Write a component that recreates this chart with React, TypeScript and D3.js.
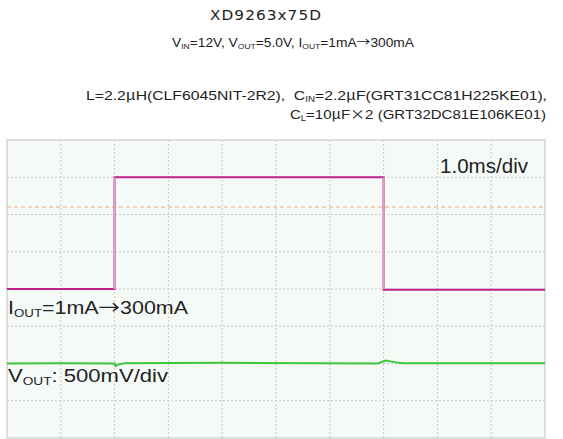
import React from "react";
import * as d3 from "d3";

// time in divisions (0..10), level in divisions (-4..4, 0 = centre)
const ioutTime = [0, 2, 2, 7, 7, 10];
const ioutLevel = [0, 0, 3, 3, -0.02, -0.02];
const voutTime = [0, 1.0, 2.0, 2.02, 2.08, 2.2, 4.0, 6.9, 7.0, 7.05, 7.15, 7.35, 8.5, 10];
const voutLevel = [-2.0, -1.99, -2.0, -2.07, -2.02, -1.99, -1.98, -2.0, -1.94, -1.92, -1.95, -1.99, -1.99, -1.99];
const refTime = [0, 10];
const refLevel = [2.2, 2.2];
const xTicks = [1, 2, 3, 4, 5, 6, 7, 8, 9];
const yTicks = [-3, -2, -1, 0, 1, 2, 3];

const W = 563, H = 439;
const L = 7, T = 140, R = 545, B = 438;

export default function App() {
  const x = d3.scaleLinear().domain([0, 10]).range([L, R]);
  const y = d3.scaleLinear().domain([-4, 4]).range([B, T]);
  const line = d3.line<[number, number]>().x(d => x(d[0])).y(d => y(d[1]));
  const iout: [number, number][] = ioutTime.map((t, i) => [t, ioutLevel[i]]);
  const vout: [number, number][] = voutTime.map((t, i) => [t, voutLevel[i]]);
  const ref: [number, number][] = refTime.map((t, i) => [t, refLevel[i]]);
  const font = "'Liberation Sans', Arial, sans-serif";
  const cjk = "'Noto Sans CJK JP', sans-serif";
  const sub = { fontSize: "0.62em" } as const;
  const adj = "spacingAndGlyphs";
  return (
    <svg width={W} height={H} style={{ position: "absolute", left: 0, top: 0, background: "#fff" }}>
      <text x={210} y={20} textLength={112} lengthAdjust={adj} fontFamily="'DejaVu Sans', sans-serif" fontSize={14.5} letterSpacing={1} fill="#222">XD9263x75D</text>
      <text x={172} y={47} textLength={242} lengthAdjust={adj} fontFamily={font} fontSize={12} fill="#222">
        V<tspan style={sub} dy={2}>IN</tspan><tspan dy={-2}>=12V, V</tspan><tspan style={sub} dy={2}>OUT</tspan><tspan dy={-2}>=5.0V, I</tspan><tspan style={sub} dy={2}>OUT</tspan><tspan dy={-2}>=1mA</tspan><tspan fontFamily={cjk}>→</tspan>300mA
      </text>
      <text x={86} y={100} textLength={461} lengthAdjust={adj} fontFamily={font} fontSize={13.5} fill="#222">
        L=2.2<tspan fontFamily={cjk}>μ</tspan>H(CLF6045NIT-2R2),{"\u00a0\u00a0"}C<tspan style={sub} dy={2}>IN</tspan><tspan dy={-2}>=2.2</tspan><tspan fontFamily={cjk}>μ</tspan>F(GRT31CC81H225KE01),
      </text>
      <text x={290} y={119} textLength={256} lengthAdjust={adj} fontFamily={font} fontSize={13.5} fill="#222">
        C<tspan style={sub} dy={2}>L</tspan><tspan dy={-2}>=10</tspan><tspan fontFamily={cjk}>μ</tspan>F<tspan fontFamily={cjk}>×</tspan>2 (GRT32DC81E106KE01)
      </text>
      <rect x={L} y={T} width={R - L} height={B - T} fill="#f5faf7" stroke="#c8cccc" strokeWidth={1.2} />
      {xTicks.map(t => (
        <line key={"vx" + t} x1={x(t)} x2={x(t)} y1={T} y2={B} stroke="#c8c8c8" strokeWidth={1} strokeDasharray="2,2" />
      ))}
      {yTicks.map(t => (
        <line key={"hy" + t} x1={L} x2={R} y1={y(t)} y2={y(t)} stroke="#c8c8c8" strokeWidth={1} strokeDasharray="2,2" />
      ))}
      <path d={line(ref) || ""} fill="none" stroke="#f0a878" strokeWidth={1} strokeDasharray="4,3" />
      <path d={line(iout) || ""} fill="none" stroke="#c0208c" strokeWidth={2} />
      <line x1={x(2)} x2={x(2)} y1={y(0)} y2={y(3)} stroke="#d8a0c8" strokeWidth={2} />
      <line x1={x(7)} x2={x(7)} y1={y(0)} y2={y(3)} stroke="#d8a0c8" strokeWidth={2} />
      <path d={line(vout) || ""} fill="none" stroke="#3cc83c" strokeWidth={2} />
      <text x={440} y={173} textLength={88} lengthAdjust={adj} fontFamily={font} fontSize={20} fill="#222">1.0ms/div</text>
      <text x={8} y={314} textLength={180} lengthAdjust={adj} fontFamily={font} fontSize={18} fill="#222">
        I<tspan style={sub} dy={3}>OUT</tspan><tspan dy={-3}>=1mA</tspan><tspan fontFamily={cjk}>→</tspan>300mA
      </text>
      <text x={8} y={382} textLength={160} lengthAdjust={adj} fontFamily={font} fontSize={18} fill="#222">
        V<tspan style={sub} dy={3}>OUT</tspan><tspan dy={-3}>: 500mV/div</tspan>
      </text>
    </svg>
  );
}
